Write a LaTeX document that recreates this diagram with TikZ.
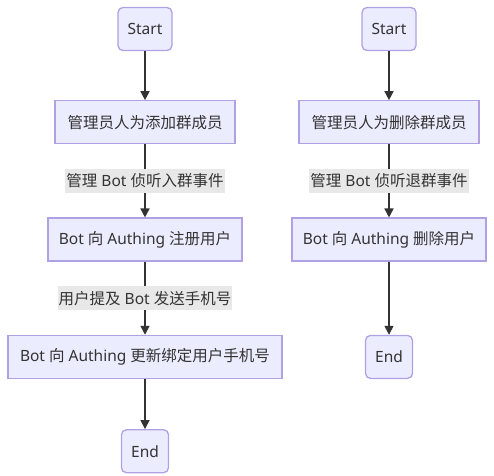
\documentclass[tikz,border=0pt]{standalone}
\usepackage{fontspec}
\setmainfont{Noto Sans}
\newfontfamily\cjk{Noto Sans CJK SC}
\definecolor{flowfill}{RGB}{236, 236, 255}
\definecolor{flowborder}{RGB}{176, 160, 228}
\definecolor{flowline}{RGB}{51, 51, 51}
\definecolor{labelgray}{RGB}{232, 232, 232}
\usetikzlibrary{
  arrows.meta,
  positioning,
}
\tikzset{
  >={Triangle[length=9pt,width=9pt]},
  stepbox/.style={draw=flowborder,line width=1.3pt,rectangle,fill=flowfill,text=flowline,minimum height=43,inner sep=0pt},
  endbox/.style={stepbox,rounded corners=5pt},
  flow/.style={->,draw=flowline,line width=1.6pt},
  edgelabel/.style={fill=labelgray,text=flowline,minimum height=24,inner xsep=1pt,inner ysep=0pt},
}

\begin{document}
\begin{tikzpicture}[x=1pt,y=-1pt,node distance=73pt and 0pt,font=\fontsize{15.5}{18}\selectfont]
        \useasboundingbox (0,0) rectangle (494,475);

        % join
        \node[endbox,minimum width=54]     (l0) at (145,29)          {Start};
        \node[stepbox,minimum width=180]   (l1) [below=49pt of l0]   {\cjk 管理员人为添加群成员};
        \node[stepbox,minimum width=194]   (l2) [below=of l1]        {Bot {\cjk 向} Authing {\cjk 注册用户}};
        \node[stepbox,minimum width=274]   (l3) [below=of l2]        {Bot {\cjk 向} Authing {\cjk 更新绑定用户手机号}};
        \node[endbox,minimum width=47]     (l4) [below=50pt of l3]   {End};

        % leave
        \node[endbox,minimum width=54]     (r0) at (389,29)          {Start};
        \node[stepbox,minimum width=180]   (r1) [below=49pt of r0]   {\cjk 管理员人为删除群成员};
        \node[stepbox,minimum width=194]   (r2) [below=of r1]        {Bot {\cjk 向} Authing {\cjk 删除用户}};
        \node[endbox,minimum width=47]     (r3) [below=of r2]        {End};

        \draw[flow] (l0.south) -- (l1.north);
        \draw[flow] (l1.south) -- node[edgelabel] {{\cjk 管理} Bot {\cjk 侦听入群事件}} (l2.north);
        \draw[flow] (l2.south) -- node[edgelabel] {{\cjk 用户提及} Bot {\cjk 发送手机号}} (l3.north);
        \draw[flow] (l3.south) -- (l4.north);

        \draw[flow] (r0.south) -- (r1.north);
        \draw[flow] (r1.south) -- node[edgelabel] {{\cjk 管理} Bot {\cjk 侦听退群事件}} (r2.north);
        \draw[flow] (r2.south) -- (r3.north);

\end{tikzpicture}
\end{document}
